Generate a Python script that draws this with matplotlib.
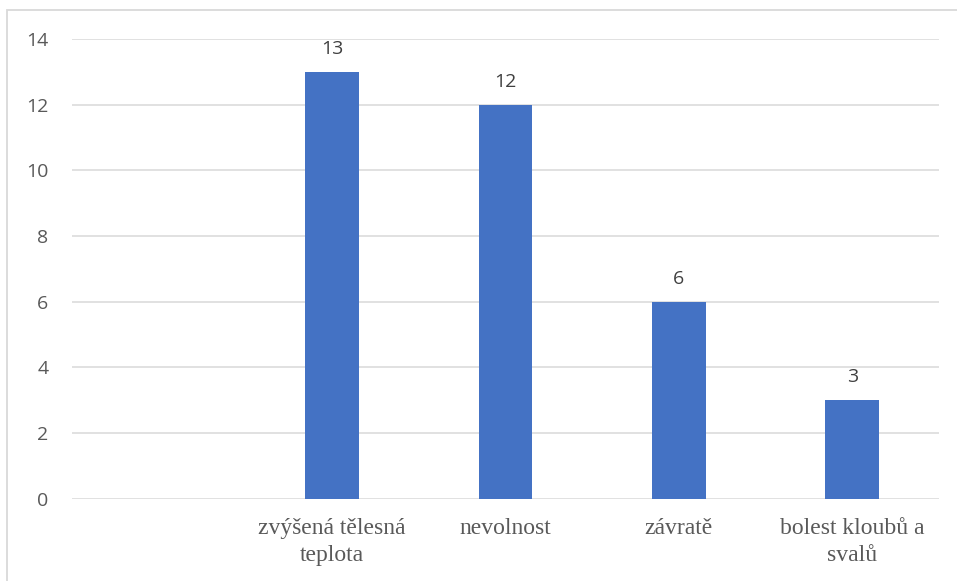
import matplotlib
matplotlib.use("Agg")
import matplotlib.pyplot as plt
from matplotlib.patches import Rectangle

# data
categories = ["", "zvýšená tělesná\nteplota", "nevolnost", "závratě", "bolest kloubů a\nsvalů"]
values = [None, 13, 12, 6, 3]
yticks = [0, 2, 4, 6, 8, 10, 12, 14]

BAR = "#4472C4"
GRID = "#D9D9D9"
TXT = "#595959"

W, H = 957, 581
fig = plt.figure(figsize=(W / 100, H / 100), dpi=100)
ax = fig.add_axes([72 / W, 1 - 498.5 / H, (939 - 72) / W, (498.5 - 39) / H])

# chart border (only top and left visible in the reference)
fig.patches.append(Rectangle((7.5 / W, -0.1), 1.2, 1.1 - 10 / H, transform=fig.transFigure,
                             fill=False, edgecolor=GRID, lw=1.3))

xs = list(range(len(categories)))
for x, v in zip(xs, values):
    if v is None:
        continue
    ax.bar(x, v, width=0.31, color=BAR, zorder=3)
    ax.annotate(str(v), (x, v), xytext=(0, 10), textcoords="offset points",
                ha="center", va="bottom", fontsize=14, color="#404040",
                family="Open Sans")

ax.set_xlim(-0.5, len(categories) - 0.5)
ax.set_ylim(0, 14)
ax.set_yticks(yticks)
ax.set_yticklabels([str(t) for t in yticks], fontsize=14, color=TXT, family="Open Sans")
ax.set_xticks(xs)
ax.set_xticklabels(categories, fontsize=17, color=TXT, family="Liberation Serif",
                   linespacing=1.35)
ax.tick_params(axis="y", length=0, pad=17)
ax.tick_params(axis="x", length=0, pad=14)
ax.grid(axis="y", color=GRID, lw=1.1, zorder=0)
for s in ax.spines.values():
    s.set_visible(False)

fig.savefig("out.png", dpi=100)
